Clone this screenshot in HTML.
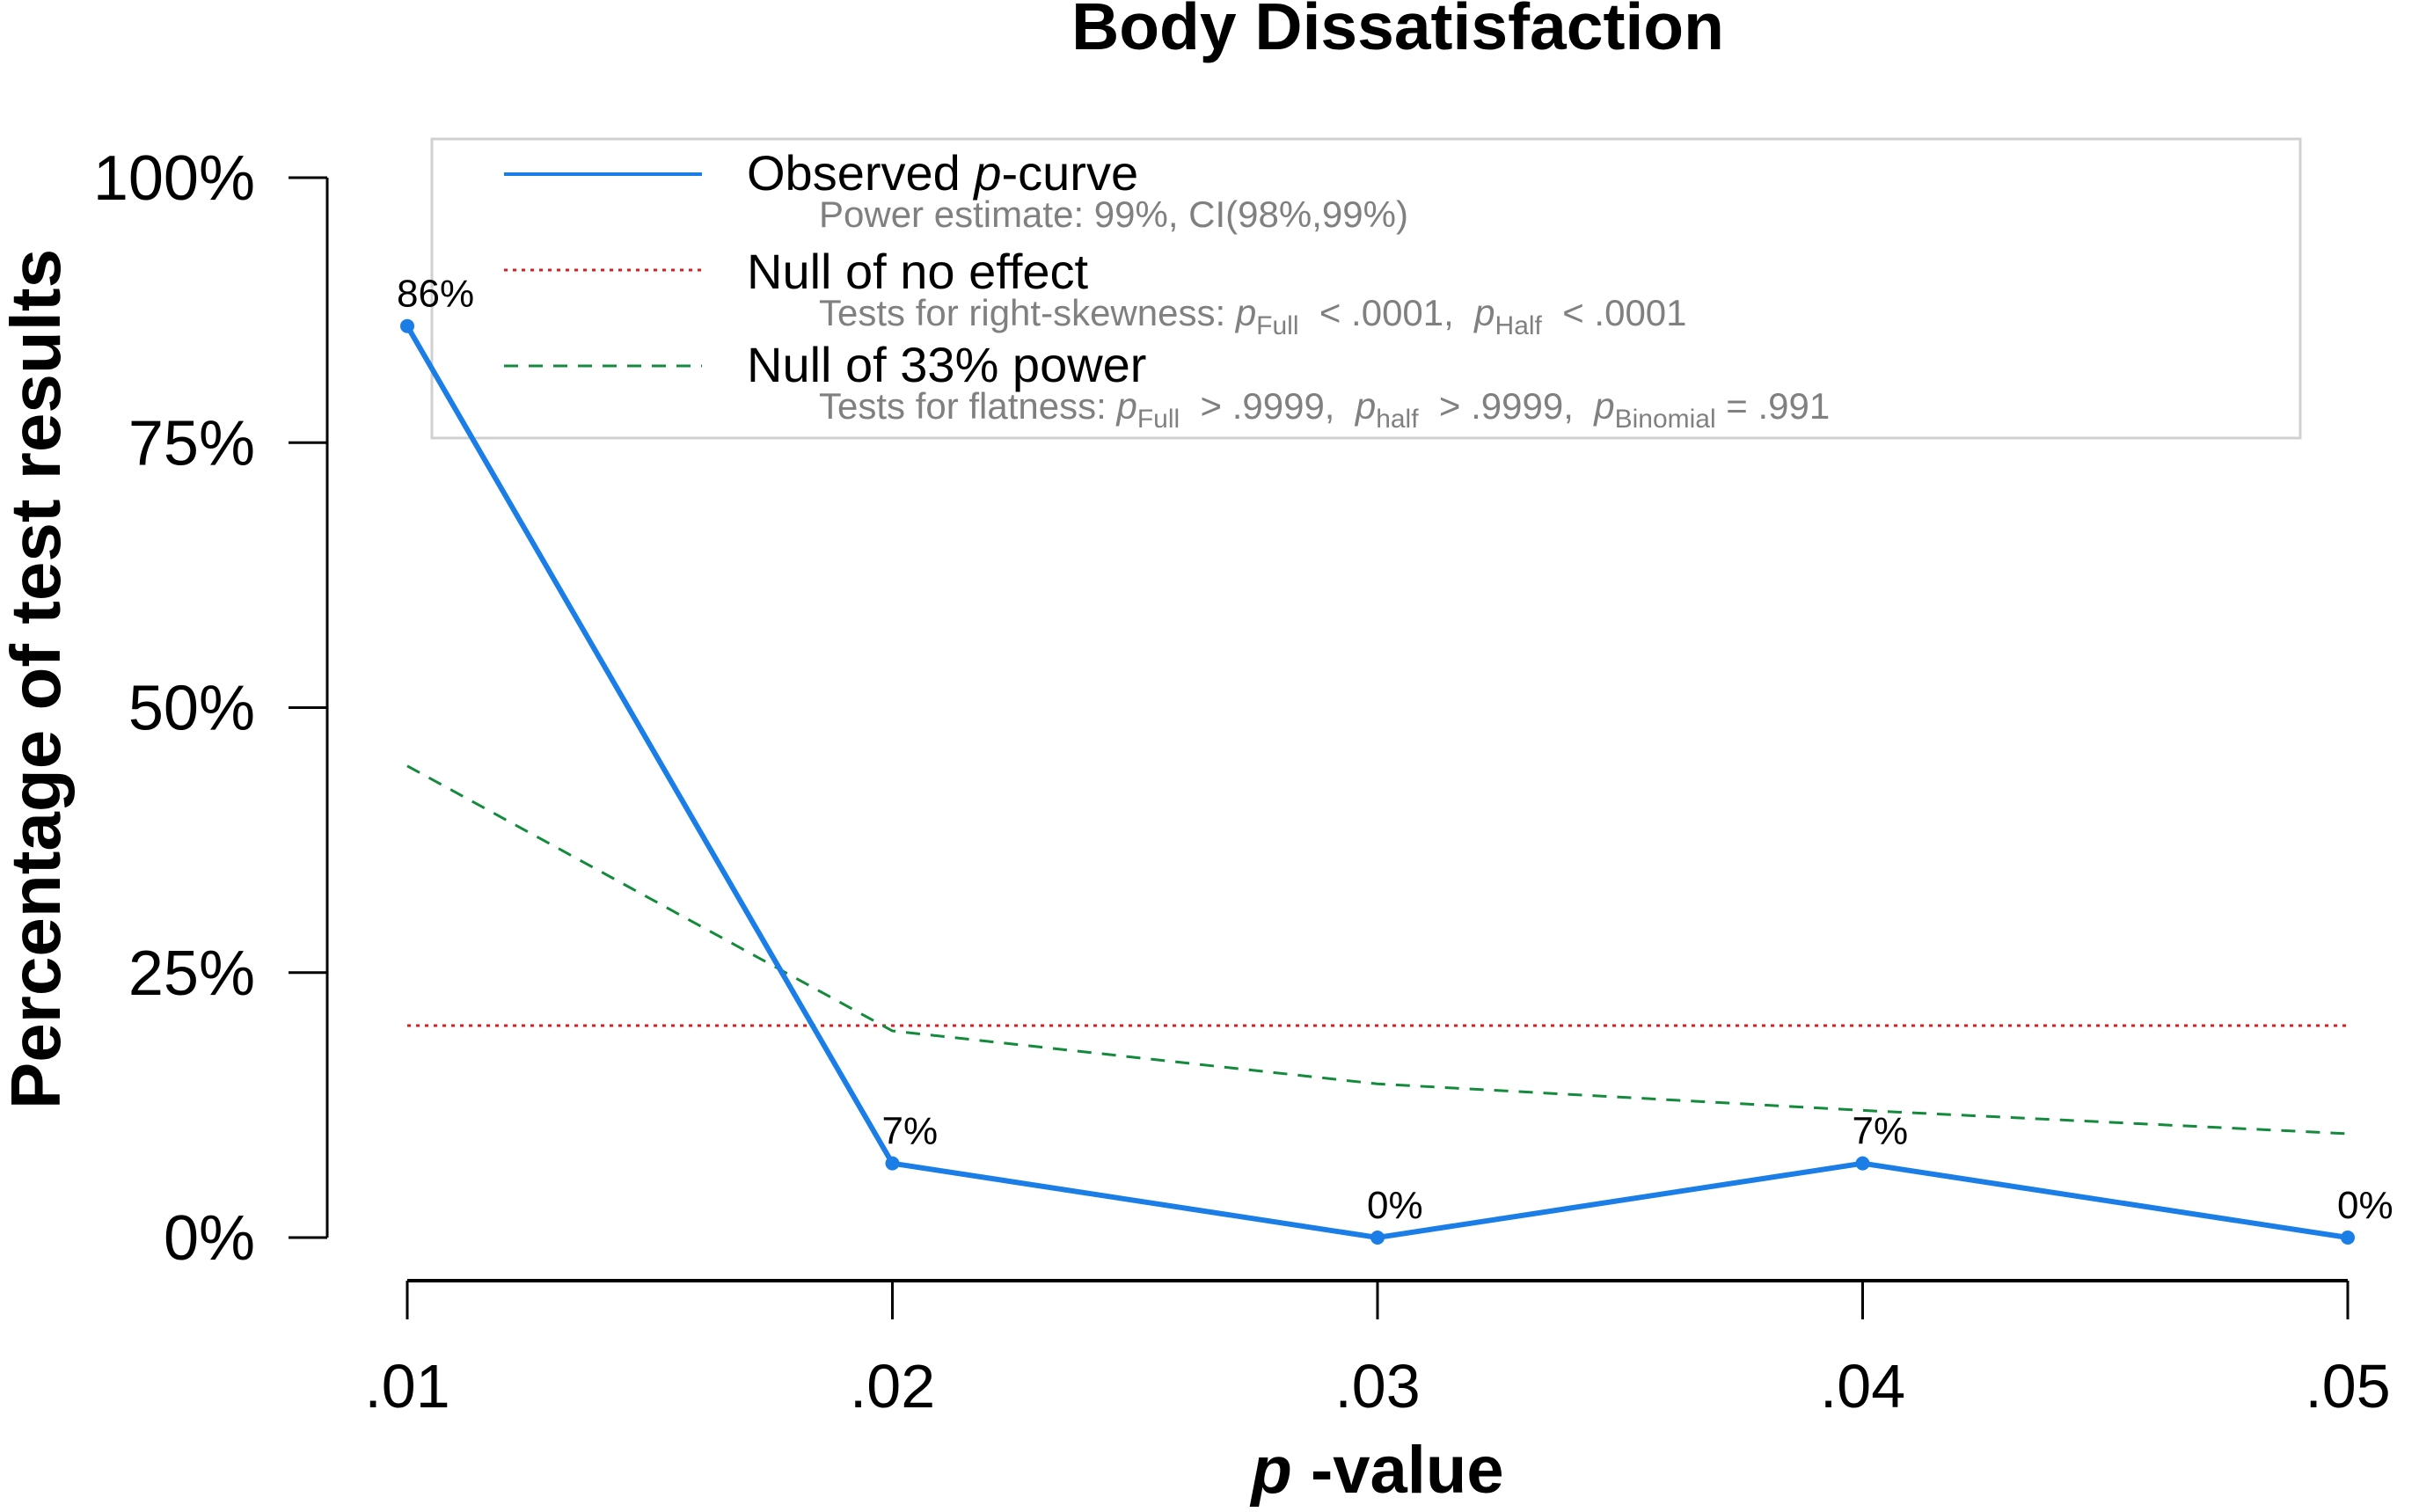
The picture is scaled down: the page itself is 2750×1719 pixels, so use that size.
<!DOCTYPE html>
<html><head><meta charset="utf-8"><style>
html,body{margin:0;padding:0;background:#fff;}
svg{display:block;font-family:"Liberation Sans",Arial,sans-serif;}
</style></head><body>
<svg id="chart" width="2750" height="1719" viewBox="0 0 2750 1719" xmlns="http://www.w3.org/2000/svg">
<text x="1589" y="56" text-anchor="middle" font-size="75" font-weight="bold">Body Dissatisfaction</text>
<g id="axes"></g>
<g id="legend">
  <rect x="491" y="158" width="2124" height="340" fill="none" stroke="#d0d0d0" stroke-width="3"/>
  <line x1="573" y1="198" x2="798" y2="198" stroke="#1a7ee6" stroke-width="4"/>
  <text x="849" y="216" font-size="56">Observed <tspan font-style="italic">p</tspan>-curve</text>
  <text x="931" y="258" font-size="42" fill="#808080">Power estimate: 99%, CI(98%,99%)</text>
  <line x1="573" y1="307" x2="798" y2="307" stroke="#e31a1c" stroke-width="3" stroke-dasharray="4,6"/>
  <text x="849" y="328" font-size="56">Null of no effect</text>
  <text x="931" y="370" font-size="42" fill="#808080" xml:space="preserve">Tests for right-skewness: <tspan font-style="italic">p</tspan><tspan font-size="30" dy="10">Full</tspan><tspan dy="-10">  &lt; .0001,  </tspan><tspan font-style="italic">p</tspan><tspan font-size="30" dy="10">Half</tspan><tspan dy="-10">  &lt; .0001</tspan></text>
  <line x1="573" y1="416" x2="798" y2="416" stroke="#138a3c" stroke-width="3" stroke-dasharray="16,12"/>
  <text x="849" y="434" font-size="56">Null of 33% power</text>
  <text x="931" y="476" font-size="42" fill="#808080" xml:space="preserve">Tests for flatness: <tspan font-style="italic">p</tspan><tspan font-size="30" dy="10">Full</tspan><tspan dy="-10">  &gt; .9999,  </tspan><tspan font-style="italic">p</tspan><tspan font-size="30" dy="10">half</tspan><tspan dy="-10">  &gt; .9999,  </tspan><tspan font-style="italic">p</tspan><tspan font-size="30" dy="10">Binomial</tspan><tspan dy="-10"> = .991</tspan></text>
</g>
<g id="series"></g>
</svg>
<script>
const categories = [".01", ".02", ".03", ".04", ".05"];
const observed = [86, 7, 0, 7, 0];
const nullNoEffect = [20, 20, 20, 20, 20];
const null33 = [44.5, 19.5, 14.5, 12, 9.8];
const yTicks = [0, 25, 50, 75, 100];
const yTickLabels = ["0%", "25%", "50%", "75%", "100%"];

const NS = "http://www.w3.org/2000/svg";
const X0 = 463, X1 = 2669, Y0 = 1407, Y1 = 202;
function xs(i){ return X0 + (X1 - X0) * i / (categories.length - 1); }
function ys(v){ return Y0 - (Y0 - Y1) * v / 100; }
function mk(tag, attrs, parent){
  const e = document.createElementNS(NS, tag);
  for (const k in attrs) e.setAttribute(k, attrs[k]);
  parent.appendChild(e); return e;
}
const axes = document.getElementById("axes");
const series = document.getElementById("series");

const yAxis = mk("line", {x1:372, y1:ys(0), x2:372, y2:ys(100), stroke:"#000", "stroke-width":3}, axes);


yTicks.forEach((t, i) => {
  const tk = mk("line", {x1:328, y1:ys(t), x2:372, y2:ys(t), stroke:"#000", "stroke-width":3}, axes);
  
  
  const lb = mk("text", {x:290, y:ys(t)+25, "text-anchor":"end", "font-size":72}, axes);
  lb.textContent = yTickLabels[i];
  
  
});
const yTitle = mk("text", {x:0, y:0, transform:"translate(68,772) rotate(-90)", "text-anchor":"middle", "font-size":80, "font-weight":"bold"}, axes);
yTitle.textContent = "Percentage of test results";



const xAxis = mk("line", {x1:X0, y1:1456, x2:X1, y2:1456, stroke:"#000", "stroke-width":4}, axes);


categories.forEach((c, i) => {
  const tk = mk("line", {x1:xs(i), y1:1456, x2:xs(i), y2:1500, stroke:"#000", "stroke-width":3}, axes);
  
  
  const lb = mk("text", {x:xs(i), y:1600, "text-anchor":"middle", "font-size":70}, axes);
  lb.textContent = c;
  
  
});
const xTitle = mk("text", {x:1566, y:1697, "text-anchor":"middle", "font-size":76, "font-weight":"bold"}, axes);
xTitle.innerHTML = '<tspan font-style="italic">p</tspan> -value';



function pts(arr){ return arr.map((v, i) => xs(i) + "," + ys(v)).join(" "); }
const red = mk("polyline", {points:pts(nullNoEffect), fill:"none", stroke:"#e31a1c", "stroke-width":3, "stroke-dasharray":"4,6"}, series);


const green = mk("polyline", {points:pts(null33), fill:"none", stroke:"#138a3c", "stroke-width":3, "stroke-dasharray":"16,12"}, series);


const blue = mk("polyline", {points:pts(observed), fill:"none", stroke:"#1a7ee6", "stroke-width":6}, series);


observed.forEach((v, i) => {
  const p = mk("circle", {cx:xs(i), cy:ys(v), r:8, fill:"#1a7ee6"}, series);
  
  
  const t = mk("text", {x:xs(i)-12, y:ys(v)-22, "font-size":44}, series);
  t.textContent = v + "%";
  
  
});
</script>
</body></html>
